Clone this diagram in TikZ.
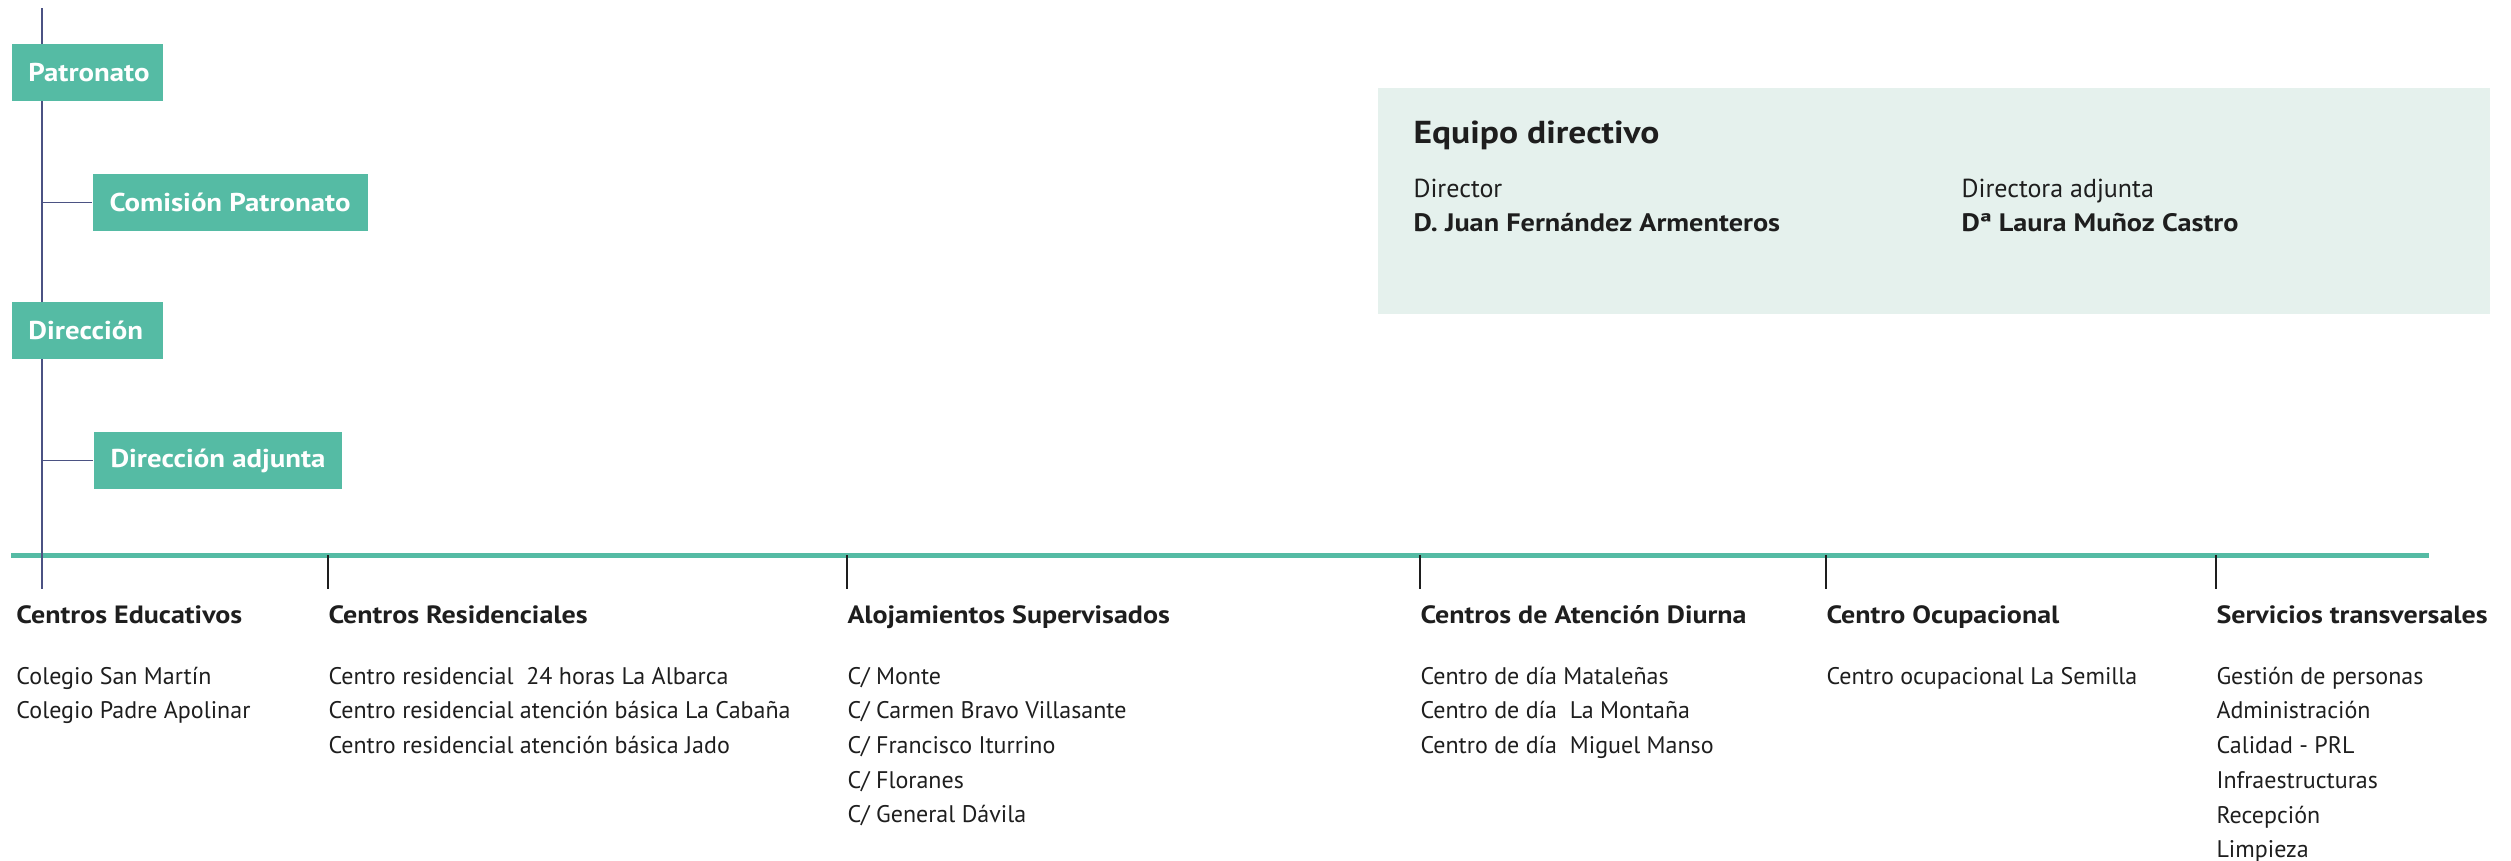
\documentclass[tikz,border=0pt]{standalone}
\usepackage{fontspec}
\setmainfont{PT Sans}[BoldFeatures={FakeStretch=1.12}]
\usetikzlibrary{positioning}
\definecolor{verde}{HTML}{55BBA4}
\definecolor{azul}{HTML}{4B5283}
\definecolor{fondo}{HTML}{E5F1ED}
\definecolor{texto}{HTML}{1E1E1E}

\begin{document}
\begin{tikzpicture}[x=0.4pt, y=-0.4pt]

\tikzstyle{unidad} = [
    fill=verde,
    text=white,
    font=\bfseries\fontsize{10.3}{13}\selectfont,
    inner xsep=6.8pt,
    inner ysep=0pt,
    minimum height=22.8pt,
    anchor=west
];
\tikzstyle{principal} = [unidad, text width=46.8pt, align=left];
\tikzstyle{titulo} = [inner sep=0pt, anchor=base west, text=texto, font=\bfseries\fontsize{10}{12}\selectfont];
\tikzstyle{lista} = [inner sep=0pt, anchor=north west, align=left, text=texto, font=\fontsize{9.6}{13.88}\selectfont];
\tikzstyle{cargo} = [inner sep=0pt, anchor=base west, align=left, text=texto, font=\fontsize{10.4}{13.6}\selectfont];
\tikzstyle{marca} = [draw=texto, line width=0.5pt];
\tikzstyle{rama} = [draw=azul, line width=0.7pt];

\useasboundingbox (0,0) rectangle (2511,860);

% barra de areas
\coordinate (barraI) at (11,555);
\coordinate (barraD) at (2429,555);
\draw[verde, line width=2pt] (barraI) -- (barraD);

% eje de gobierno
\coordinate (raiz) at (42,8);
\coordinate (fin) at (42,589);
\draw[rama] (raiz) -- (fin);

\node[principal] (patronato) at (11,72.5) {Patronato};
\node[unidad, below right=28.8pt and 32.4pt of patronato.south west, anchor=north west] (comision) {Comisión Patronato};
\node[principal] (direccion) at (11,330.5) {Dirección};
\node[unidad, below right=28.8pt and 32.8pt of direccion.south west, anchor=north west] (adjunta) {Dirección adjunta};

\draw[rama] (raiz |- comision.west) -- (comision.west);
\draw[rama] (raiz |- adjunta.west) -- (adjunta.west);

% equipo directivo
\node[fill=fondo, inner sep=0pt, minimum width=444.8pt, minimum height=90.4pt, anchor=north west] (equipo) at (1377,87) {};
\node[titulo, font=\bfseries\fontsize{12.7}{14}\selectfont] (equipotit) at ([shift={(36,56)}]equipo.north west) {Equipo directivo};
\node[cargo] (director) at ([shift={(36,144)}]equipo.north west) {Director\\{\fontsize{10.1}{13.6}\selectfont\bfseries D. Juan Fernández Armenteros}};
\node[cargo] (directora) at ([shift={(584,144)}]equipo.north west) {Directora adjunta\\{\fontsize{10.1}{13.6}\selectfont\bfseries Dª Laura Muñoz Castro}};

% areas
\node[titulo] (educativos) at (16,623) {Centros Educativos};
\node[titulo] (residenciales) at (328,623) {Centros Residenciales};
\node[titulo] (alojamientos) at (847,623) {Alojamientos Supervisados};
\node[titulo] (diurna) at (1420,623) {Centros de Atención Diurna};
\node[titulo] (ocupacional) at (1826,623) {Centro Ocupacional};
\node[titulo] (transversales) at (2216,623) {Servicios transversales};

\draw[marca] (residenciales.west |- barraI) -- ([yshift=13.6pt]residenciales.base west);
\draw[marca] (alojamientos.west |- barraI) -- ([yshift=13.6pt]alojamientos.base west);
\draw[marca] (diurna.west |- barraI) -- ([yshift=13.6pt]diurna.base west);
\draw[marca] (ocupacional.west |- barraI) -- ([yshift=13.6pt]ocupacional.base west);
\draw[marca] (transversales.west |- barraI) -- ([yshift=13.6pt]transversales.base west);

\node[lista, below=17.4pt of educativos.base west, anchor=north west] (colegios) {Colegio San Martín\\Colegio Padre Apolinar};
\node[lista, below=17.4pt of residenciales.base west, anchor=north west] (residencias) {Centro residencial~ 24 horas La Albarca\\Centro residencial atención básica La Cabaña\\Centro residencial atención básica Jado};
\node[lista, below=17.4pt of alojamientos.base west, anchor=north west] (pisos) {C/ Monte\\C/ Carmen Bravo Villasante\\C/ Francisco Iturrino\\C/ Floranes\\C/ General Dávila};
\node[lista, below=17.4pt of diurna.base west, anchor=north west] (centrosdia) {Centro de día Mataleñas\\Centro de día~ La Montaña\\Centro de día~ Miguel Manso};
\node[lista, below=17.4pt of ocupacional.base west, anchor=north west] (semilla) {Centro ocupacional La Semilla};
\node[lista, below=17.4pt of transversales.base west, anchor=north west] (servicios) {Gestión de personas\\Administración\\Calidad - PRL\\Infraestructuras\\Recepción\\Limpieza};

\end{tikzpicture}
\end{document}
